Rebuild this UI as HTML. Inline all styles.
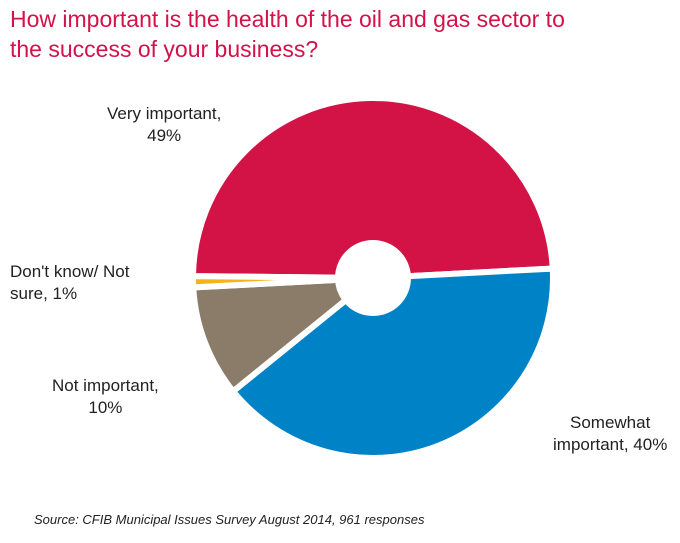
<!DOCTYPE html>
<html><head><meta charset="utf-8"><style>
body{margin:0;width:680px;height:543px;background:#fff;font-family:"Liberation Sans",sans-serif;overflow:hidden;position:relative}
.t{position:absolute;left:10px;top:4px;color:#d3124a;font-size:23px;line-height:30px}
.l{position:absolute;font-size:17px;line-height:22px;color:#222}
.s{position:absolute;left:34px;top:512px;font-size:13px;font-style:italic;color:#222}
</style></head><body>
<div class="t">How important is the health of the oil and gas sector to<br>the success of your business?</div>
<svg id="c" width="680" height="543" style="position:absolute;left:0;top:0"></svg>
<div class="l" style="left:107px;top:103px;text-align:center">Very important,<br>49%</div>
<div class="l" style="left:10px;top:261px">Don't know/ Not<br>sure, 1%</div>
<div class="l" style="left:52px;top:375px;text-align:center">Not important,<br>10%</div>
<div class="l" style="left:553px;top:412px;text-align:center">Somewhat<br>important, 40%</div>
<div class="s">Source: CFIB Municipal Issues Survey August 2014, 961 responses</div>
<script>
const categories=["Very important","Somewhat important","Not important","Don't know/ Not sure"];
const values=[49,40,10,1];
const colors=["#d31245","#0082c6","#8b7b69","#f5b21a"];
const cx=373,cy=278,R=180,r0=38,start=270.6;
const svg=document.getElementById('c');
const NS="http://www.w3.org/2000/svg";
const total=values.reduce((a,b)=>a+b,0);
function pt(a,r){const t=a*Math.PI/180;return [cx+r*Math.sin(t),cy-r*Math.cos(t)];}
let a=start;
values.forEach((v,i)=>{
  const sw=v/total*360,b=a+sw;
  const p1=pt(a,R),p2=pt(b,R);
  const p=document.createElementNS(NS,'path');
  p.setAttribute('d',`M${cx},${cy}L${p1[0]},${p1[1]}A${R},${R} 0 ${sw>180?1:0} 1 ${p2[0]},${p2[1]}Z`);
  p.setAttribute('fill',colors[i]);p.setAttribute('stroke','#fff');p.setAttribute('stroke-width','6');
  
  
  svg.appendChild(p);a=b;
});
const h=document.createElementNS(NS,'circle');
h.setAttribute('cx',cx);h.setAttribute('cy',cy);h.setAttribute('r',r0);h.setAttribute('fill','#fff');


svg.appendChild(h);
</script>
</body></html>
